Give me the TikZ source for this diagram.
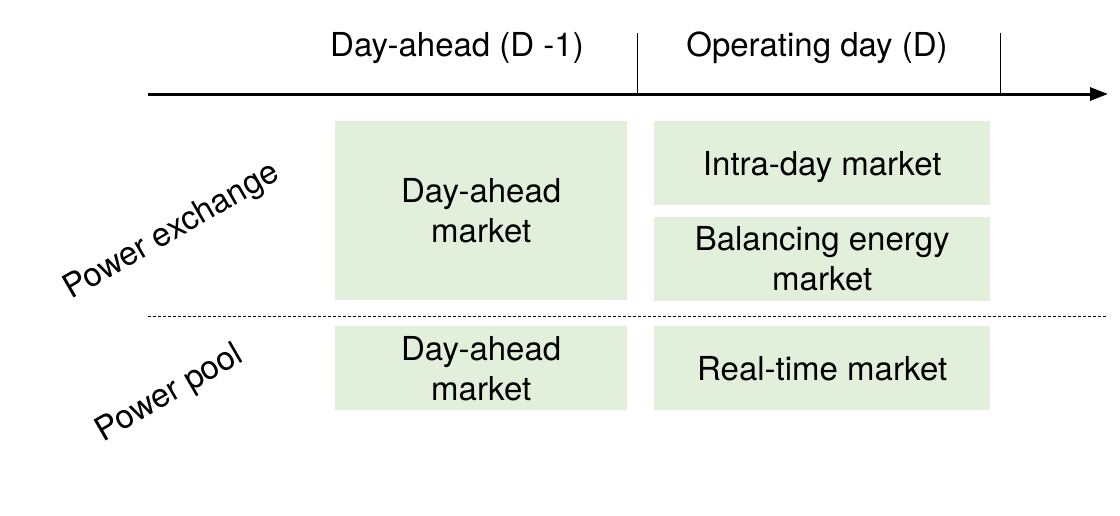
\documentclass[tikz,border=0pt]{standalone}
\usepackage{fontspec}
\setmainfont{TeX Gyre Heros}
\usepackage{xcolor}
\usepackage{tikz}
\usetikzlibrary{positioning, arrows.meta}

\definecolor{mktgreen}{HTML}{E2EFDA}

\begin{document}
\begin{tikzpicture}[x=1pt, y=-1pt,
    market/.style={fill=mktgreen, align=center, inner sep=0pt, text depth=0pt,
        font=\fontsize{33}{40}\selectfont},
    wide/.style={market, minimum width=336pt, minimum height=84pt},
    dayhdr/.style={font=\fontsize{33}{38}\selectfont},
    side/.style={font=\fontsize{33}{38}\selectfont, rotate=30}]
    \useasboundingbox (0,0) rectangle (1120,515);

    % time axis
    \coordinate (t0) at (148,94);
    \coordinate (t1) at (1108,94);
    \coordinate (d1) at (637,94);
    \coordinate (d2) at (1000,94);
    \draw[line width=3pt, -{Triangle[length=18pt,width=13pt]}] (t0) -- (t1);
    \draw[line width=0.8pt] (d1) -- ++(0,-61);
    \draw[line width=0.8pt] (d2) -- ++(0,-61);
    \node[dayhdr] (dahead) at (457,48) {Day-ahead (D -1)};
    \node[dayhdr] (opday) at (817,48) {Operating day (D)};

    % power exchange
    \node[market, anchor=north west, minimum width=292pt, minimum height=179pt]
        (pedam) at (335,121) {Day-ahead\\market};
    \node[wide, anchor=north west] (peid) at (654,121) {Intra-day market};
    \node[wide, below=11pt of peid] (pebal) {Balancing energy\\market};

    % separator
    \coordinate (s0) at (148,316);
    \coordinate (s1) at (1106,316);
    \draw[line width=0.8pt, dash pattern=on 3pt off 2pt] (s0) -- (s1);

    % power pool
    \node[market, anchor=north west, minimum width=292pt, minimum height=84pt]
        (ppdam) at (335,326) {Day-ahead\\market};
    \node[wide, anchor=north west] (pprt) at (654,326) {Real-time market};

    \node[side] (pex) at (172,232) {Power exchange};
    \node[side] (ppool) at (170,394) {Power pool};
\end{tikzpicture}
\end{document}
